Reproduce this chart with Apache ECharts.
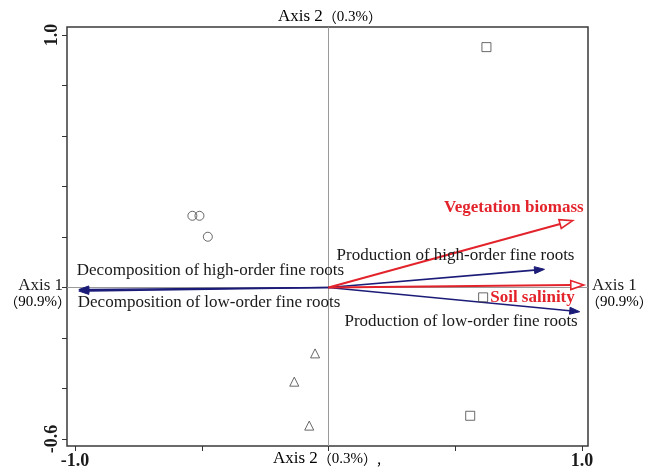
<!DOCTYPE html>
<html>
<head>
<meta charset="utf-8">
<script src="https://cdn.jsdelivr.net/npm/echarts@6/dist/echarts.min.js"></script>
<style>
html, body { margin: 0; padding: 0; background: #fff; }
#main { width: 649px; height: 471px; }
</style>
</head>
<body>
<div id="main"></div>
<script>
// sample scores on axis 1 / axis 2
var squareSites = [[0.623, 0.952], [0.610, -0.039], [0.559, -0.508]];
var circleSites = [[-0.537, 0.284], [-0.509, 0.284], [-0.476, 0.201]];
var triangleSites = [[-0.053, -0.261], [-0.135, -0.373], [-0.076, -0.547]];

// explanatory variables (red, hollow heads)
var envNames = ['Vegetation biomass', 'Soil salinity'];
var envTips = [[0.963, 0.265], [1.007, 0.010]];

// fine root variables (navy, filled heads)
var rootNames = [
  'Production of high-order fine roots',
  'Production of low-order fine roots',
  'Decomposition of high-order fine roots',
  'Decomposition of low-order fine roots'
];
var rootTips = [[0.852, 0.072], [0.991, -0.096], [-0.985, -0.008], [-0.985, -0.014]];

var xTickLabels = ['-1.0', '1.0'];
var yTickLabels = ['1.0', '-0.6'];
var axis1Title = 'Axis 1', axis1Pct = '90.9%';
var axis2Title = 'Axis 2', axis2Pct = '0.3%';

// layout
var frame = { left: 67, top: 27, width: 521, height: 419 };
var inner = { left: 75, top: 35, width: 507, height: 404 };
var xPerPx = 2 / inner.width, yPerPx = 1.6 / inner.height;
var xMin0 = -1 - (inner.left - frame.left) * xPerPx;
var xMax0 = 1 + (frame.left + frame.width - inner.left - inner.width) * xPerPx;
var yMax0 = 1 + (inner.top - frame.top) * yPerPx;
var yMin0 = -0.6 - (frame.top + frame.height - inner.top - inner.height) * yPerPx;

var SERIF = '"Liberation Serif", "Times New Roman", "Noto Sans CJK SC", serif';
var CJK = '"Noto Sans CJK SC", sans-serif';
var RED = '#e3232b', NAVY = '#1b1b78', INK = '#1a1a1a';

var labelPos = {
  'Vegetation biomass': { align: 'right', dx: 11, dy: -13 },
  'Soil salinity': { align: 'right', dx: -9, dy: 13 },
  'Production of high-order fine roots': { align: 'right', dx: 30, dy: -14 },
  'Production of low-order fine roots': { align: 'right', dx: -2, dy: 10 },
  'Decomposition of high-order fine roots': { align: 'left', dx: -2, dy: -19 },
  'Decomposition of low-order fine roots': { align: 'left', dx: -1, dy: 11 }
};

function arrowSeries(tips, color, hollow, lineW, headL, headW) {
  return {
    type: 'custom',
    xAxisIndex: 1, yAxisIndex: 1,
    clip: false,
    z: 3,
    data: tips,
    renderItem: function (params, api) {
      var o = api.coord([0, 0]);
      var t = api.coord([api.value(0), api.value(1)]);
      var a = Math.atan2(t[1] - o[1], t[0] - o[0]);
      var ux = Math.cos(a), uy = Math.sin(a);
      var bx = t[0] - ux * headL, by = t[1] - uy * headL;
      var px = -uy * headW / 2, py = ux * headW / 2;
      return {
        type: 'group',
        children: [
          { type: 'line', shape: { x1: o[0], y1: o[1], x2: bx, y2: by },
            style: { stroke: color, lineWidth: lineW } },
          { type: 'polygon', shape: { points: [[t[0], t[1]], [bx + px, by + py], [bx - px, by - py]] },
            style: { fill: hollow ? '#fff' : color, stroke: color, lineWidth: hollow ? 1.6 : 1 } }
        ]
      };
    }
  };
}

function labelSeries(names, tips, color, bold) {
  return {
    type: 'custom',
    xAxisIndex: 1, yAxisIndex: 1,
    clip: false,
    z: 5,
    data: tips.map(function (t, i) { return [t[0], t[1], i]; }),
    renderItem: function (params, api) {
      var name = names[api.value(2)];
      var lp = labelPos[name];
      var t = api.coord([api.value(0), api.value(1)]);
      return {
        type: 'text',
        x: t[0] + lp.dx, y: t[1] + lp.dy,
        style: {
          text: name, fill: color,
          font: (bold ? 'bold ' : '') + '17px ' + SERIF,
          align: lp.align, verticalAlign: 'middle'
        }
      };
    }
  };
}

function siteSeries(data, symbol, size) {
  return {
    type: 'scatter', xAxisIndex: 1, yAxisIndex: 1,
    symbol: symbol, symbolSize: size, z: 4,
    itemStyle: { color: 'rgba(0,0,0,0)', borderColor: '#444', borderWidth: 1 },
    data: data
  };
}

var myChart = echarts.init(document.getElementById('main'), null, { renderer: 'canvas' });

var titleRich = {
  a: { fontFamily: SERIF, fontSize: 17, color: INK },
  b: { fontFamily: SERIF, fontSize: 15, color: '#333' },
  p: { fontFamily: CJK, fontSize: 14, color: '#333' }
};
function pct(v, tail) { return '{p|（}{b|' + v + '}{p|）' + (tail || '') + '}'; }

var option = {
  backgroundColor: '#fff',
  animation: false,
  grid: [
    { left: frame.left, top: frame.top, width: frame.width, height: frame.height,
      show: true, borderColor: '#3a3a3a', borderWidth: 1.5, backgroundColor: 'transparent' },
    { left: inner.left, top: inner.top, width: inner.width, height: inner.height }
  ],
  xAxis: [
    { gridIndex: 0, type: 'value', min: xMin0, max: xMax0, show: false },
    { gridIndex: 1, type: 'value', position: 'bottom', min: -1, max: 1, interval: 0.5, offset: 7,
      axisLine: { show: false, onZero: false },
      axisTick: { show: true, length: 5, lineStyle: { color: '#333', width: 1 } },
      splitLine: { show: false },
      axisLabel: {
        margin: 6, color: INK, fontFamily: SERIF, fontSize: 18, fontWeight: 'bold',
        formatter: function (v) {
          if (Math.abs(v + 1) < 1e-6) return xTickLabels[0];
          if (Math.abs(v - 1) < 1e-6) return xTickLabels[1];
          return '';
        }
      }
    }
  ],
  yAxis: [
    { gridIndex: 0, type: 'value', min: yMin0, max: yMax0, show: false },
    { gridIndex: 1, type: 'value', position: 'left', min: -0.6, max: 1, interval: 0.2, offset: 8,
      axisLine: { show: false, onZero: false },
      axisTick: { show: true, length: 5, lineStyle: { color: '#333', width: 1 } },
      splitLine: { show: false },
      axisLabel: {
        rotate: 90, margin: 6, color: INK, fontFamily: SERIF, fontSize: 18, fontWeight: 'bold',
        formatter: function (v) {
          if (Math.abs(v - 1) < 1e-6) return yTickLabels[0];
          if (Math.abs(v + 0.6) < 1e-6) return yTickLabels[1];
          return '';
        }
      }
    }
  ],
  graphic: [
    { type: 'text', x: 330, y: 17, z: 10,
      style: { text: '{a|' + axis2Title + '}' + pct(axis2Pct), rich: titleRich, align: 'center', verticalAlign: 'middle' } },
    { type: 'text', x: 327, y: 459, z: 10,
      style: { text: '{a|' + axis2Title + '}' + pct(axis2Pct, ','), rich: titleRich, align: 'center', verticalAlign: 'middle' } },
    { type: 'text', x: 63, y: 286, z: 10,
      style: { text: axis1Title, font: '17px ' + SERIF, fill: INK, align: 'right', verticalAlign: 'middle' } },
    { type: 'text', x: 71, y: 302, z: 10,
      style: { text: pct(axis1Pct), rich: titleRich, align: 'right', verticalAlign: 'middle' } },
    { type: 'text', x: 592, y: 286, z: 10,
      style: { text: axis1Title, font: '17px ' + SERIF, fill: INK, align: 'left', verticalAlign: 'middle' } },
    { type: 'text', x: 586, y: 302, z: 10,
      style: { text: pct(axis1Pct), rich: titleRich, align: 'left', verticalAlign: 'middle' } }
  ],
  series: [
    // gray axes through the origin, spanning the frame
    {
      type: 'custom', xAxisIndex: 0, yAxisIndex: 0, z: 1,
      data: [[0, 0]],
      renderItem: function (params, api) {
        var c = api.coord([api.value(0), api.value(1)]);
        var cs = params.coordSys;
        return {
          type: 'group',
          children: [
            { type: 'line', shape: { x1: c[0], y1: cs.y, x2: c[0], y2: cs.y + cs.height },
              style: { stroke: '#9a9a9a', lineWidth: 1 } },
            { type: 'line', shape: { x1: cs.x, y1: c[1], x2: cs.x + cs.width, y2: c[1] },
              style: { stroke: '#9a9a9a', lineWidth: 1 } }
          ]
        };
      }
    },
    arrowSeries(rootTips, NAVY, false, 1.6, 10, 7),
    arrowSeries(envTips, RED, true, 2, 13, 9),
    siteSeries(squareSites, 'rect', 9),
    siteSeries(circleSites, 'circle', 9),
    siteSeries(triangleSites, 'triangle', 9),
    labelSeries(rootNames, rootTips, INK, false),
    labelSeries(envNames, envTips, RED, true)
  ]
};

myChart.setOption(option);
</script>
</body>
</html>
